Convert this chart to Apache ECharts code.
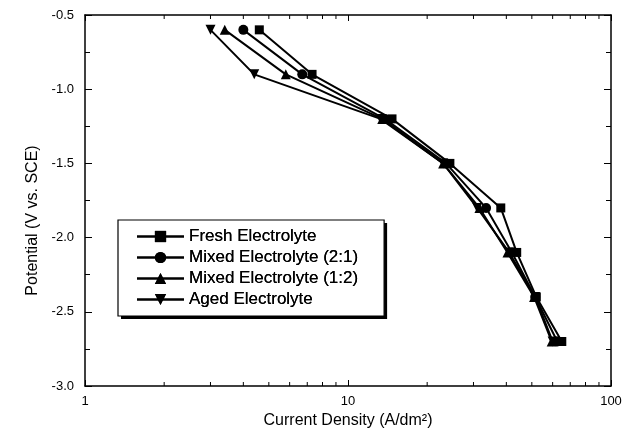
<!DOCTYPE html>
<html>
<head>
<meta charset="utf-8">
<script src="https://cdn.jsdelivr.net/npm/echarts@6/dist/echarts.min.js"></script>
<style>
  html, body { margin: 0; padding: 0; background: #fff; }
  #chart { width: 634px; height: 438px; }
</style>
</head>
<body>
<div id="chart"></div>
<script>
// potential (V vs. SCE) for each measured point
const potential = [-0.6, -0.9, -1.2, -1.5, -1.8, -2.1, -2.4, -2.7];
// current density (A/dm2)
const fresh = [4.6, 7.3, 14.7, 24.4, 38.1, 43.8, 52, 65];
const mixed21 = [4.0, 6.7, 13.8, 23.6, 33.5, 42, 51.5, 62.5];
const mixed12 = [3.4, 5.8, 13.5, 23, 31.6, 40.4, 51, 59.5];
const aged = [3.0, 4.4, 13.3, 23, 31, 41, 51.5, 60];
const seriesNames = [
  "Fresh Electrolyte",
  "Mixed Electrolyte (2:1)",
  "Mixed Electrolyte (1:2)",
  "Aged Electrolyte",
];
// minor ticks of the log axis
const logMinor = [2, 3, 4, 5, 6, 7, 8, 9, 20, 30, 40, 50, 60, 70, 80, 90];

const font = "'Liberation Sans', Arial, sans-serif";

function pairs(xs) {
  return xs.map((x, i) => [x, potential[i]]);
}

function lineSeries(name, xs, symbol, rotate) {
  return {
    name: name,
    type: "line",
    data: pairs(xs),
    symbol: symbol,
    symbolSize: symbol === "rect" ? 9 : 10,
    symbolRotate: rotate || 0,
    showAllSymbol: true,
    lineStyle: { color: "#000", width: 2 },
    itemStyle: { color: "#000" },
    emphasis: { disabled: true },
    z: 3,
  };
}

// same layout for both legend layers
function legendBase(extra) {
  return Object.assign(
    {
      data: seriesNames,
      orient: "vertical",
      left: 118,
      top: 220,
      itemWidth: 47,
      itemHeight: 14,
      itemGap: 4,
      padding: [8, 26, 8, 18],
      borderRadius: 0,
      textStyle: { fontSize: 17, color: "#000", fontFamily: font },
      selectedMode: false,
    },
    extra
  );
}

const chart = echarts.init(document.getElementById("chart"));
chart.setOption({
  animation: false,
  textStyle: { fontFamily: font },
  grid: { left: 85, right: 23, top: 15, bottom: 52 },
  legend: [
    // white box with drop shadow
    legendBase({
      backgroundColor: "#fff",
      borderWidth: 0,
      shadowColor: "#000",
      shadowBlur: 0,
      shadowOffsetX: 3,
      shadowOffsetY: 3,
    }),
    // thin frame on top
    legendBase({
      backgroundColor: "transparent",
      borderColor: "#000",
      borderWidth: 1.2,
    }),
  ],
  xAxis: [
    {
      type: "log",
      logBase: 10,
      min: 1,
      max: 100,
      name: "Current Density (A/dm²)",
      nameLocation: "middle",
      nameGap: 20,
      nameTextStyle: { fontSize: 16, color: "#000" },
      axisLine: { lineStyle: { color: "#000", width: 1.5 } },
      axisTick: { inside: true, length: 6, lineStyle: { color: "#000" } },
      axisLabel: { fontSize: 13, color: "#000", margin: 9 },
      splitLine: { show: false },
    },
    {
      type: "log",
      logBase: 10,
      min: 1,
      max: 100,
      position: "top",
      axisLine: { lineStyle: { color: "#000", width: 1.5 } },
      axisTick: { inside: true, length: 6, lineStyle: { color: "#000" } },
      axisLabel: { show: false },
      splitLine: { show: false },
    },
  ],
  yAxis: [
    {
      type: "value",
      min: -3.0,
      max: -0.5,
      interval: 0.5,
      name: "Potential (V vs. SCE)",
      nameLocation: "middle",
      nameGap: 39,
      nameTextStyle: { fontSize: 16, color: "#000", padding: [0, 40, 0, 0] },
      axisLine: { lineStyle: { color: "#000", width: 1.5 } },
      axisTick: { inside: true, length: 7, lineStyle: { color: "#000" } },
      minorTick: { show: true, splitNumber: 2, length: 5, lineStyle: { color: "#000" } },
      axisLabel: {
        fontSize: 13,
        color: "#000",
        margin: 11,
        formatter: (v) => v.toFixed(1),
      },
      splitLine: { show: false },
    },
    {
      type: "value",
      min: -3.0,
      max: -0.5,
      interval: 0.5,
      position: "right",
      axisLine: { show: true, lineStyle: { color: "#000", width: 1.5 } },
      axisTick: { inside: true, length: 7, lineStyle: { color: "#000" } },
      minorTick: { show: true, splitNumber: 2, length: 5, lineStyle: { color: "#000" } },
      axisLabel: { show: false },
      splitLine: { show: false },
    },
  ],
  series: [
    lineSeries(seriesNames[0], fresh, "rect"),
    lineSeries(seriesNames[1], mixed21, "circle"),
    lineSeries(seriesNames[2], mixed12, "triangle"),
    lineSeries(seriesNames[3], aged, "triangle", 180),
    {
      // minor log ticks on bottom and top edges
      type: "custom",
      silent: true,
      data: logMinor.map((v) => [v, -3.0]),
      renderItem: (params, api) => {
        const bottom = api.coord([api.value(0), -3.0]);
        const top = api.coord([api.value(0), -0.5]);
        const style = { stroke: "#000", lineWidth: 1 };
        return {
          type: "group",
          children: [
            { type: "line", shape: { x1: bottom[0], y1: bottom[1], x2: bottom[0], y2: bottom[1] - 4 }, style: style },
            { type: "line", shape: { x1: top[0], y1: top[1], x2: top[0], y2: top[1] + 4 }, style: style },
          ],
        };
      },
      z: 2,
    },
  ],
});
</script>
</body>
</html>
